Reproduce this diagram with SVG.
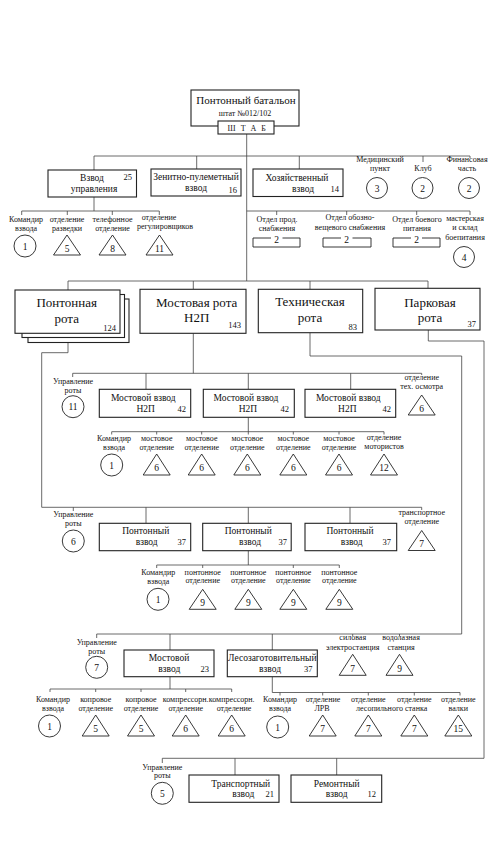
<svg xmlns="http://www.w3.org/2000/svg" xmlns:xlink="http://www.w3.org/1999/xlink" width="498" height="847" viewBox="0 0 498 847">
<style>
.box{fill:#fff;stroke:#222;stroke-width:1.1}
.ln{fill:none;stroke:#444;stroke-width:0.8}
.sh{fill:none;stroke:#222;stroke-width:0.9}
.c{fill:#fff;stroke:#222;stroke-width:0.9}
text{font-family:"Liberation Serif","Times New Roman",serif;fill:#111;text-anchor:middle}
.s{font-size:8px}
.m{font-size:9.5px}
.l{font-size:13px}
.n{font-size:8.5px;text-anchor:end}
.k{font-size:9.5px}
</style>
<defs>
<path id="tri" d="M0,0 L13.5,21 L-13.5,21 Z" fill="#fff" stroke="#222" stroke-width="0.9"/>
<path id="tri20" d="M0,0 L13.5,20 L-13.5,20 Z" fill="#fff" stroke="#222" stroke-width="0.9"/>
</defs>
<rect width="498" height="847" fill="#fff"/>
<g id="connectors" class="ln">
<path d="M246.7,134 V281"/>
<path d="M94,170 V156 H470 V158 M196.7,156 V169 M299.3,156 V169 M423,156 V162"/>
<path d="M94,197 V211 M21.7,215 V211 H159.3 V215 M67.3,211 V215 M112.3,211 V215"/>
<path d="M246.7,211 H470 V215 M276.7,211 V215 M346.7,211 V215 M416.7,211 V215"/>
<path d="M68,290 V281 H428 V288.3 M193.3,281 V289.3 M310,281 V289.3"/>
<path d="M68,342.5 V352.7 H41.7 V507.3 H421.7 V510 M73.3,507.3 V511 M146,507.3 V523.3 M248.3,507.3 V523.3 M350,507.3 V523.3"/>
<path d="M248.3,550.7 V565 M156.7,568 V565 H339.3 V568 M202.7,565 V568 M293.3,565 V568"/>
<path d="M193.3,333.3 V373.3 M72.7,377 V373.3 H421.7 V375 M146,373.3 V389.3 M248.3,373.3 V389.3 M350.7,373.3 V389.3"/>
<path d="M248.3,417.3 V434.5 M111.7,434.5 V431.7 H384 V434.5 M156.7,431.7 V434.5 M201.7,431.7 V434.5 M293.3,431.7 V434.5 M339,431.7 V434.5"/>
<path d="M310,332.7 V356 H461.7 V634 H96.7 V638 M170,634 V650 M272.3,634 V650 M352.7,634 V636 M399.5,634 V636"/>
<path d="M170,676.7 V689 M50,692 V689 H231.7 V692 M95.7,689 V692 M141,689 V692 M185.7,689 V692"/>
<path d="M272.3,676.7 V692.5 H460 V695.5 M280,692.5 V695.5 M322.7,692.5 V695.5 M368.3,692.5 V695.5 M414.3,692.5 V695.5"/>
<path d="M428.3,330 V341 H484 V758.3 H162.3 V763 M235,758.3 V775 M336.7,758.3 V775"/>
</g>
<g id="battalion"><rect class="box" x="191" y="90" width="108" height="36"/><text x="246" y="104" font-size="11">Понтонный батальон</text><text class="s" x="245" y="116">штат №012/102</text></g>
<g id="shtab"><rect class="box" x="218" y="121" width="56" height="13"/><text class="s" x="247.5" y="130.5" letter-spacing="1.5">Ш Т А Б</text></g>
<g id="vzvod-upravleniya"><rect class="box" x="48" y="170" width="88.5" height="27"/><text class="m" x="92" y="180.5">Взвод</text><text class="m" x="94" y="191.5">управления</text><text class="n" x="132" y="180">25</text></g>
<g id="zenitno"><rect class="box" x="151" y="169" width="90" height="27"/><text class="m" x="196" y="180">Зенитно-пулеметный</text><text class="m" x="196" y="191">взвод</text><text class="n" x="237" y="193">16</text></g>
<g id="hoz"><rect class="box" x="253" y="169" width="90" height="27.5"/><text class="m" x="297" y="181">Хозяйственный</text><text class="m" x="303" y="191.5">взвод</text><text class="n" x="339" y="192">14</text></g>
<g id="med"><text class="s" x="380" y="162">Медицинский</text><text class="s" x="380" y="171">пункт</text><circle class="c" cx="377" cy="188" r="10.5"/><text class="k" x="377" y="191.5">3</text></g>
<g id="klub"><text class="s" x="423" y="171">Клуб</text><circle class="c" cx="422.5" cy="188" r="10.5"/><text class="k" x="422.5" y="191.5">2</text></g>
<g id="fin"><text class="s" x="467" y="162">Финансовая</text><text class="s" x="467" y="171">часть</text><circle class="c" cx="469" cy="188" r="10.5"/><text class="k" x="469" y="191.5">2</text></g>
<g id="vu-komandir"><text class="s" x="26" y="221.5">Командир</text><text class="s" x="26" y="231">взвода</text><circle class="c" cx="25" cy="246" r="11"/><text class="k" x="25" y="249.5">1</text></g>
<g id="vu-razv"><text class="s" x="67" y="221.5">отделение</text><text class="s" x="67" y="231">разведки</text><use xlink:href="#tri20" x="67" y="235"/><text class="k" x="67" y="251.5">5</text></g>
<g id="vu-tel"><text class="s" x="112.5" y="221.5">телефонное</text><text class="s" x="112.5" y="231">отделение</text><use xlink:href="#tri20" x="112.5" y="235"/><text class="k" x="112.5" y="251.5">8</text></g>
<g id="vu-reg"><text class="s" x="159" y="220">отделение</text><text class="s" x="165" y="229">регулировщиков</text><use xlink:href="#tri20" x="159.5" y="235"/><text class="k" x="159.5" y="251.5">11</text></g>
<g id="hz-prod"><text class="s" x="277" y="221.5">Отдел прод.</text><text class="s" x="277" y="231">снабжения</text><path class="sh" d="M271,238 H253 V247 H300 V238 H282.5"/><text class="k" x="276.7" y="242.5">2</text></g>
<g id="hz-oboz"><text class="s" x="350" y="220">Отдел обозно-</text><text class="s" x="350" y="230">вещевого снабжения</text><path class="sh" d="M341,238 H323 V247 H371 V238 H352.5"/><text class="k" x="346.7" y="242.5">2</text></g>
<g id="hz-boev"><text class="s" x="417" y="221.5">Отдел боевого</text><text class="s" x="417" y="231">питания</text><path class="sh" d="M411,238 H393 V247 H440 V238 H422"/><text class="k" x="416.5" y="242.5">2</text></g>
<g id="hz-master"><text class="s" x="465" y="221">мастерская</text><text class="s" x="465" y="230">и склад</text><text class="s" x="465" y="240">боепитания</text><circle class="c" cx="464" cy="257" r="10.5"/><text class="k" x="464" y="260.5">4</text></g>
<g id="pontonnaya-rota"><rect class="box" x="28" y="299" width="101" height="43.5"/><rect class="box" x="22" y="294.5" width="102.5" height="43"/><rect class="box" x="15" y="290" width="105" height="43.3"/><text class="l" x="66.7" y="306.7">Понтонная</text><text class="l" x="66.7" y="322.7">рота</text><text class="n" x="116" y="330.5">124</text></g>
<g id="mostovaya-rota"><rect class="box" x="140" y="289.3" width="106" height="44"/><text class="l" x="196.7" y="306.7">Мостовая рота</text><text class="l" x="196.7" y="321.7">Н2П</text><text class="n" x="241" y="328">143</text></g>
<g id="tehnicheskaya-rota"><rect class="box" x="258.3" y="289.3" width="104.4" height="43.4"/><text class="l" x="310" y="306">Техническая</text><text class="l" x="310" y="322">рота</text><text class="n" x="357" y="330">83</text></g>
<g id="parkovaya-rota"><rect class="box" x="375" y="288.3" width="105" height="41.7"/><text class="l" x="430" y="306.7">Парковая</text><text class="l" x="430" y="322">рота</text><text class="n" x="476" y="327">37</text></g>
<g id="mr-upr"><text class="s" x="73" y="384">Управление</text><text class="s" x="73" y="393.3">роты</text><circle class="c" cx="73" cy="406.7" r="11"/><text class="k" x="73" y="410.2">11</text></g>
<g id="mr-vzvod1"><rect class="box" x="99.3" y="389.3" width="91.4" height="28"/><text class="m" x="143.3" y="400.7">Мостовой взвод</text><text class="m" x="145.7" y="411.7">Н2П</text><text class="n" x="186" y="412">42</text></g>
<g id="mr-vzvod2"><rect class="box" x="203.3" y="389.3" width="91" height="28"/><text class="m" x="246" y="400.7">Мостовой взвод</text><text class="m" x="248" y="411.7">Н2П</text><text class="n" x="289" y="412">42</text></g>
<g id="mr-vzvod3"><rect class="box" x="305" y="389.3" width="90.7" height="28"/><text class="m" x="348.3" y="400.7">Мостовой взвод</text><text class="m" x="347.3" y="411.7">Н2П</text><text class="n" x="391" y="412">42</text></g>
<g id="mr-teh-osmotr"><text class="s" x="421.7" y="380">отделение</text><text class="s" x="421.7" y="389.3">тех. осмотра</text><use xlink:href="#tri20" x="421.7" y="395"/><text class="k" x="421.7" y="411.5">6</text></g>
<g id="mv-komandir"><text class="s" x="114" y="440.7">Командир</text><text class="s" x="114" y="450">взвода</text><circle class="c" cx="111.7" cy="465" r="11"/><text class="k" x="111.7" y="468.5">1</text></g>
<g id="mv-otd1"><text class="s" x="156.7" y="440.7">мостовое</text><text class="s" x="156.7" y="450">отделение</text><use xlink:href="#tri" x="156.7" y="454"/><text class="k" x="156.7" y="471">6</text></g>
<g id="mv-otd2"><text class="s" x="201.7" y="440.7">мостовое</text><text class="s" x="201.7" y="450">отделение</text><use xlink:href="#tri" x="201.7" y="454"/><text class="k" x="201.7" y="471">6</text></g>
<g id="mv-otd3"><text class="s" x="247.3" y="440.7">мостовое</text><text class="s" x="247.3" y="450">отделение</text><use xlink:href="#tri" x="247.3" y="454"/><text class="k" x="247.3" y="471">6</text></g>
<g id="mv-otd4"><text class="s" x="293.3" y="440.7">мостовое</text><text class="s" x="293.3" y="450">отделение</text><use xlink:href="#tri" x="293.3" y="454"/><text class="k" x="293.3" y="471">6</text></g>
<g id="mv-otd5"><text class="s" x="339" y="440.7">мостовое</text><text class="s" x="339" y="450">отделение</text><use xlink:href="#tri" x="339" y="454"/><text class="k" x="339" y="471">6</text></g>
<g id="mv-motor"><text class="s" x="384" y="440">отделение</text><text class="s" x="384" y="449">мотористов</text><use xlink:href="#tri" x="384" y="454"/><text class="k" x="384" y="471">12</text></g>
<g id="pr-upr"><text class="s" x="73.3" y="516.7">Управление</text><text class="s" x="73.3" y="526">роты</text><circle class="c" cx="73.3" cy="541" r="11"/><text class="k" x="73.3" y="544.5">6</text></g>
<g id="pr-vzvod1"><rect class="box" x="99.3" y="523.3" width="91.4" height="27.4"/><text class="m" x="145.7" y="534.3">Понтонный</text><text class="m" x="146.7" y="545">взвод</text><text class="n" x="186" y="545">37</text></g>
<g id="pr-vzvod2"><rect class="box" x="202.7" y="523.3" width="88.5" height="27.4"/><text class="m" x="248.3" y="534.3">Понтонный</text><text class="m" x="250" y="545">взвод</text><text class="n" x="287" y="545">37</text></g>
<g id="pr-vzvod3"><rect class="box" x="305" y="523.3" width="91.7" height="27.4"/><text class="m" x="350" y="534.3">Понтонный</text><text class="m" x="351.7" y="545">взвод</text><text class="n" x="391" y="545">37</text></g>
<g id="pr-transp"><text class="s" x="421.7" y="515">транспортное</text><text class="s" x="421.7" y="524">отделение</text><use xlink:href="#tri20" x="421.7" y="530.5"/><text class="k" x="421.7" y="547">7</text></g>
<g id="pv-komandir"><text class="s" x="158.3" y="575">Командир</text><text class="s" x="158.3" y="584">взвода</text><circle class="c" cx="158" cy="599.3" r="11"/><text class="k" x="158" y="602.8">1</text></g>
<g id="pv-otd1"><text class="s" x="202.7" y="575">понтонное</text><text class="s" x="202.7" y="583.3">отделение</text><use xlink:href="#tri20" x="202.7" y="589.3"/><text class="k" x="202.7" y="605.8">9</text></g>
<g id="pv-otd2"><text class="s" x="248.3" y="575">понтонное</text><text class="s" x="248.3" y="583.3">отделение</text><use xlink:href="#tri20" x="248.3" y="589.3"/><text class="k" x="248.3" y="605.8">9</text></g>
<g id="pv-otd3"><text class="s" x="293.3" y="575">понтонное</text><text class="s" x="293.3" y="583.3">отделение</text><use xlink:href="#tri20" x="293.3" y="589.3"/><text class="k" x="293.3" y="605.8">9</text></g>
<g id="pv-otd4"><text class="s" x="339.3" y="575">понтонное</text><text class="s" x="339.3" y="583.3">отделение</text><use xlink:href="#tri20" x="339.3" y="589.3"/><text class="k" x="339.3" y="605.8">9</text></g>
<g id="tr-upr"><text class="s" x="96.7" y="645">Управление</text><text class="s" x="96.7" y="654.3">роты</text><circle class="c" cx="96.7" cy="667.3" r="11"/><text class="k" x="96.7" y="670.8">7</text></g>
<g id="tr-mostovoy"><rect class="box" x="124" y="650" width="90" height="26.7"/><text class="m" x="169" y="660.7">Мостовой</text><text class="m" x="169.3" y="671.7">взвод</text><text class="n" x="209" y="671.7">23</text></g>
<g id="tr-les"><rect class="box" x="227.3" y="650" width="90" height="26.7"/><text class="m" x="272.3" y="660.7">Лесозаготовительный</text><text class="m" x="270" y="671.7">взвод</text><text class="n" x="312.5" y="671.7">37</text></g>
<g id="tr-silovaya"><text class="s" x="352.7" y="640">силовая</text><text class="s" x="352.7" y="650">электростанция</text><use xlink:href="#tri" x="352.7" y="654.3"/><text class="k" x="352.7" y="671.5">7</text></g>
<g id="tr-vodolaz"><text class="s" x="401" y="640">водолазная</text><text class="s" x="401" y="650">станция</text><use xlink:href="#tri" x="399.5" y="654.3"/><text class="k" x="399.5" y="671.5">9</text></g>
<g id="tm-komandir"><text class="s" x="53" y="701.7">Командир</text><text class="s" x="53" y="710.7">взвода</text><circle class="c" cx="49.5" cy="726" r="11"/><text class="k" x="49.5" y="729.5">1</text></g>
<g id="tm-kopr1"><text class="s" x="95.7" y="701.7">копровое</text><text class="s" x="95.7" y="710.7">отделение</text><use xlink:href="#tri" x="95.7" y="715"/><text class="k" x="95.7" y="732">5</text></g>
<g id="tm-kopr2"><text class="s" x="141" y="701.7">копровое</text><text class="s" x="141" y="710.7">отделение</text><use xlink:href="#tri" x="141" y="715"/><text class="k" x="141" y="732">5</text></g>
<g id="tm-komp1"><text class="s" x="185.7" y="701.7">компрессорн.</text><text class="s" x="185.7" y="710.7">отделение</text><use xlink:href="#tri" x="185.7" y="715"/><text class="k" x="185.7" y="732">6</text></g>
<g id="tm-komp2"><text class="s" x="231.7" y="701.7">компрессорн.</text><text class="s" x="234" y="710.7">отделение</text><use xlink:href="#tri" x="231.7" y="715"/><text class="k" x="231.7" y="732">6</text></g>
<g id="tl-komandir"><text class="s" x="280" y="701.7">Командир</text><text class="s" x="280" y="710.7">взвода</text><circle class="c" cx="277.7" cy="727" r="11"/><text class="k" x="277.7" y="730.5">1</text></g>
<g id="tl-lrv"><text class="s" x="323" y="701.7">отделение</text><text class="s" x="322" y="710.7">ЛРВ</text><use xlink:href="#tri" x="322.7" y="715"/><text class="k" x="322.7" y="732">7</text></g>
<g id="tl-lesopil1"><text class="s" x="368.3" y="701.7">отделение</text><text class="s" x="391.7" y="710.7">лесопильного станка</text><use xlink:href="#tri" x="368.3" y="715"/><text class="k" x="368.3" y="732">7</text></g>
<g id="tl-lesopil2"><text class="s" x="414.3" y="701.7">отделение</text><use xlink:href="#tri" x="414.3" y="715"/><text class="k" x="414.3" y="732">7</text></g>
<g id="tl-valki"><text class="s" x="458.3" y="701.7">отделение</text><text class="s" x="458.3" y="710.7">валки</text><use xlink:href="#tri" x="458.3" y="715"/><text class="k" x="458.3" y="732">15</text></g>
<g id="pk-upr"><text class="s" x="162.3" y="770">Управление</text><text class="s" x="162.3" y="778.3">роты</text><circle class="c" cx="162.3" cy="793.3" r="11"/><text class="k" x="162.3" y="796.8">5</text></g>
<g id="pk-transport"><rect class="box" x="189" y="775" width="90" height="27.3"/><text class="m" x="240.7" y="786.7">Транспортный</text><text class="m" x="243.3" y="797.3">взвод</text><text class="n" x="274" y="797.3">21</text></g>
<g id="pk-remont"><rect class="box" x="291" y="775" width="90.7" height="27.3"/><text class="m" x="336.7" y="786.7">Ремонтный</text><text class="m" x="336.7" y="797.3">взвод</text><text class="n" x="376" y="797.3">12</text></g>
</svg>
